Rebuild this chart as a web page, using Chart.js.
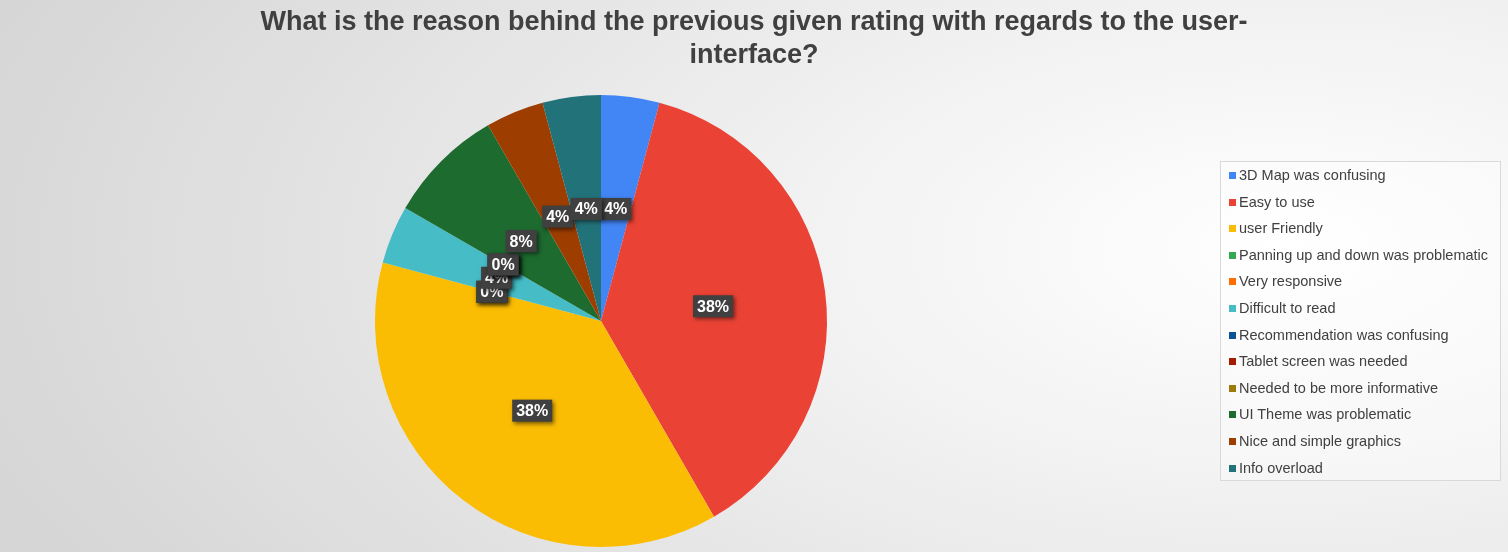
<!DOCTYPE html>
<html lang="en">
<head>
<meta charset="UTF-8">
<title>UI rating reasons</title>
<script src="https://cdn.jsdelivr.net/npm/chart.js"></script>
<style>
    html, body { margin: 0; padding: 0; }
    body { width: 1508px; height: 552px; overflow: hidden; font-family: Arial, "Liberation Sans", sans-serif;
           background: radial-gradient(ellipse 90% 120% at 85% 45%, #ffffff 0%, #f2f2f2 35%, #d6d6d6 100%); }
    #wrap { position: absolute; left: 0; top: 0; width: 1508px; height: 552px; }
    #title { position: absolute; left: 0; top: 5px; width: 1508px; text-align: center; font-size: 27px; font-weight: bold;
             color: #404040; line-height: 33px; }
    #legend { position: absolute; left: 1220px; top: 161px; width: 281px; height: 320px; border: 1px solid #d9d9d9;
              background: rgba(255,255,255,0.35); padding-top: 0; box-sizing: border-box; }
    .item { height: 26.6px; line-height: 26.6px; font-size: 14.5px; color: #404040; padding-left: 8px; white-space: nowrap; }
    .sw { display: inline-block; width: 7px; height: 7px; margin-right: 3px; vertical-align: 1px; }
</style>
</head>
<body>
<div id="wrap"><canvas id="pie"></canvas></div>
<div id="title">What is the reason behind the previous given rating with regards to the user-<br>interface?</div>
<div id="legend"></div>
<script>
const categories = ["3D Map was confusing", "Easy to use", "user Friendly", "Panning up and down was problematic",
    "Very responsive", "Difficult to read", "Recommendation was confusing", "Tablet screen was needed",
    "Needed to be more informative", "UI Theme was problematic", "Nice and simple graphics", "Info overload"];
const responses = [1, 9, 9, 0, 0, 1, 0, 0, 0, 2, 1, 1];
const colors = ["#4285f4", "#ea4335", "#fbbc04", "#34a853", "#ff6d01", "#46bdc6", "#0b5394", "#a61c00",
    "#9c7b0a", "#1e6b30", "#9e3d00", "#22727a"];

const total = responses.reduce((a, b) => a + b, 0);

const legend = document.getElementById("legend");
categories.forEach((c, i) => {
    const d = document.createElement("div");
    d.className = "item";
    d.innerHTML = '<span class="sw" style="background:' + colors[i] + '"></span>' + c;
    legend.appendChild(d);
});

const pctLabels = {
    id: "pctLabels",
    afterDatasetsDraw(chart) {
        const ctx = chart.ctx;
        const meta = chart.getDatasetMeta(0);
        ctx.save();
        ctx.font = "bold 16px Arial";
        ctx.textAlign = "center";
        ctx.textBaseline = "middle";
        meta.data.forEach((arc, i) => {
            const mid = (arc.startAngle + arc.endAngle) / 2;
            const r = arc.outerRadius * 0.5;
            const x = arc.x + Math.cos(mid) * r;
            const y = arc.y + Math.sin(mid) * r;
            const txt = Math.round(responses[i] / total * 100) + "%";
            const w = ctx.measureText(txt).width + 8;
            ctx.shadowColor = "rgba(0,0,0,0.5)";
            ctx.shadowBlur = 4;
            ctx.shadowOffsetX = 2;
            ctx.shadowOffsetY = 2;
            ctx.fillStyle = "#404040";
            ctx.fillRect(x - w / 2, y - 11, w, 22);
            ctx.shadowColor = "transparent";
            ctx.fillStyle = "#ffffff";
            ctx.fillText(txt, x, y + 1);
        });
        ctx.restore();
    }
};

new Chart(document.getElementById("pie"), {
    type: "pie",
    data: {
        labels: categories,
        datasets: [{ data: responses, backgroundColor: colors, borderWidth: 0 }]
    },
    options: {
        responsive: true,
        maintainAspectRatio: false,
        animation: false,
        layout: { padding: { left: 0, right: 306, top: 95, bottom: 5 } },
        plugins: {
            legend: { display: false },
            tooltip: { enabled: false },
            title: { display: false }
        }
    },
    plugins: [pctLabels]
});
</script>
</body>
</html>
